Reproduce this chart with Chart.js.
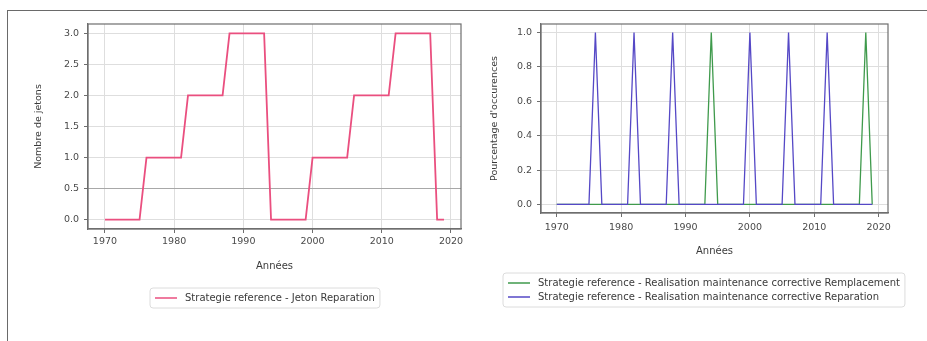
<!DOCTYPE html>
<html>
<head>
<meta charset="utf-8">
<script src="https://cdn.jsdelivr.net/npm/chart.js@4.4.1/dist/chart.umd.min.js"></script>
<style>
  body { margin: 0; background: #fff; }
  #frame { position: absolute; left: 7px; top: 10px; width: 960px; height: 400px; border: 1px solid #6a6a6a; }
  #left { position: absolute; left: 0; top: 0; width: 470px; height: 341px; }
  #right { position: absolute; left: 470px; top: 0; width: 457px; height: 341px; }
</style>
</head>
<body>
<div id="frame"></div>
<div id="left"><canvas id="c1" width="470" height="341"></canvas></div>
<div id="right"><canvas id="c2" width="457" height="341"></canvas></div>
<script>
var annees = [1970, 1971, 1972, 1973, 1974, 1975, 1976, 1977, 1978, 1979,
              1980, 1981, 1982, 1983, 1984, 1985, 1986, 1987, 1988, 1989,
              1990, 1991, 1992, 1993, 1994, 1995, 1996, 1997, 1998, 1999,
              2000, 2001, 2002, 2003, 2004, 2005, 2006, 2007, 2008, 2009,
              2010, 2011, 2012, 2013, 2014, 2015, 2016, 2017, 2018, 2019];

var jetons = [0, 0, 0, 0, 0, 0, 1, 1, 1, 1,
              1, 1, 2, 2, 2, 2, 2, 2, 3, 3,
              3, 3, 3, 3, 0, 0, 0, 0, 0, 0,
              1, 1, 1, 1, 1, 1, 2, 2, 2, 2,
              2, 2, 3, 3, 3, 3, 3, 3, 0, 0];

var remplacement = [0, 0, 0, 0, 0, 0, 0, 0, 0, 0,
                    0, 0, 0, 0, 0, 0, 0, 0, 0, 0,
                    0, 0, 0, 0, 1, 0, 0, 0, 0, 0,
                    0, 0, 0, 0, 0, 0, 0, 0, 0, 0,
                    0, 0, 0, 0, 0, 0, 0, 0, 1, 0];

var reparation = [0, 0, 0, 0, 0, 0, 1, 0, 0, 0,
                  0, 0, 1, 0, 0, 0, 0, 0, 1, 0,
                  0, 0, 0, 0, 0, 0, 0, 0, 0, 0,
                  1, 0, 0, 0, 0, 0, 1, 0, 0, 0,
                  0, 0, 1, 0, 0, 0, 0, 0, 0, 0];

var decennies = [1970, 1980, 1990, 2000, 2010, 2020];
var ticksJetons = [0, 0.5, 1, 1.5, 2, 2.5, 3];
var ticksPourcent = [0, 0.2, 0.4, 0.6, 0.8, 1];

var FONT = 'DejaVu Sans';

function pts(ys) {
  return annees.map(function(a, i) { return { x: a, y: ys[i] }; });
}

// cadre complet autour de la zone de tracé (style matplotlib)
var boxPlugin = {
  id: 'box',
  afterDraw: function(chart) {
    var a = chart.chartArea, ctx = chart.ctx;
    ctx.save();
    ctx.strokeStyle = '#6e6e6e';
    ctx.lineWidth = 1.2;
    ctx.strokeRect(a.left, a.top, a.right - a.left, a.bottom - a.top);
    ctx.restore();
  }
};

// légende encadrée, lignes alignées à gauche
var legendPlugin = {
  id: 'mplLegend',
  afterDraw: function(chart, args, opts) {
    var ctx = chart.ctx;
    var ds = chart.data.datasets;
    ctx.save();
    ctx.font = '10px "' + FONT + '"';
    var maxW = 0;
    ds.forEach(function(d) { maxW = Math.max(maxW, ctx.measureText(d.label).width); });
    var x = opts.x, y = opts.y, rowH = opts.rowH;
    var w = 22 + 8 + maxW + 10, h = rowH * ds.length + 6;
    ctx.strokeStyle = '#dcdcdc';
    ctx.lineWidth = 1;
    ctx.beginPath();
    ctx.roundRect(x - 5, y - rowH / 2 - 3, w, h, 3);
    ctx.stroke();
    ds.forEach(function(d, i) {
      var yy = y + i * rowH;
      ctx.strokeStyle = d.borderColor;
      ctx.lineWidth = 1.5;
      ctx.beginPath();
      ctx.moveTo(x, yy);
      ctx.lineTo(x + 22, yy);
      ctx.stroke();
      ctx.fillStyle = '#3a3a3a';
      ctx.textBaseline = 'middle';
      ctx.fillText(d.label, x + 30, yy);
    });
    ctx.restore();
  }
};

function axeX(hauteur, padTicks) {
  return {
    type: 'linear',
    min: 1967.55,
    max: 2021.45,
    afterBuildTicks: function(s) { s.ticks = decennies.map(function(v) { return { value: v }; }); },
    afterFit: function(s) { s.height = hauteur; },
    ticks: { color: '#4a4a4a', font: { family: FONT, size: 9.5 }, padding: padTicks, maxRotation: 0,
             callback: function(v) { return String(v); } },
    grid: { color: '#dedede', tickColor: '#6e6e6e', tickLength: 4 },
    border: { color: '#6e6e6e', width: 1.2 },
    title: { display: true, text: 'Années', color: '#3a3a3a', font: { family: FONT, size: 10 } }
  };
}

function axeY(min, max, valeurs, largeur, titre, gridFn) {
  return {
    min: min,
    max: max,
    afterBuildTicks: function(s) { s.ticks = valeurs.map(function(v) { return { value: v }; }); },
    afterFit: function(s) { s.width = largeur; },
    ticks: { color: '#4a4a4a', font: { family: FONT, size: 9.5 }, padding: 5,
             callback: function(v) { return v.toFixed(1); } },
    grid: { color: gridFn, tickColor: '#6e6e6e', tickLength: 4 },
    border: { color: '#6e6e6e', width: 1.2 },
    title: { display: true, text: titre, color: '#3a3a3a', font: { family: FONT, size: 9.5 } }
  };
}

new Chart(document.getElementById('c1'), {
  type: 'line',
  data: {
    datasets: [{
      label: 'Strategie reference - Jeton Reparation',
      data: pts(jetons),
      borderColor: '#ea4f7f',
      borderWidth: 1.8,
      pointRadius: 0,
      tension: 0
    }]
  },
  options: {
    responsive: false,
    animation: false,
    layout: { padding: { left: 29, top: 24, right: 9, bottom: 65 } },
    plugins: {
      legend: { display: false },
      tooltip: { enabled: false },
      mplLegend: { x: 155, y: 298, rowH: 14 }
    },
    scales: {
      x: axeX(47, 3),
      y: axeY(-0.15, 3.15, ticksJetons, 59, 'Nombre de jetons',
              function(c) { return c.tick && c.tick.value === 0.5 ? '#a8a8a8' : '#dedede'; })
    }
  },
  plugins: [boxPlugin, legendPlugin]
});

new Chart(document.getElementById('c2'), {
  type: 'line',
  data: {
    datasets: [{
      label: 'Strategie reference - Realisation maintenance corrective Remplacement',
      data: pts(remplacement),
      borderColor: '#3f9a4c',
      borderWidth: 1.3,
      pointRadius: 0,
      tension: 0,
      order: 1
    }, {
      label: 'Strategie reference - Realisation maintenance corrective Reparation',
      data: pts(reparation),
      borderColor: '#5548c6',
      borderWidth: 1.3,
      pointRadius: 0,
      tension: 0,
      order: 0
    }]
  },
  options: {
    responsive: false,
    animation: false,
    layout: { padding: { left: 15, top: 24, right: 39, bottom: 80 } },
    plugins: {
      legend: { display: false },
      tooltip: { enabled: false },
      mplLegend: { x: 38, y: 283, rowH: 14 }
    },
    scales: {
      x: axeX(48, 5),
      y: axeY(-0.05, 1.05, ticksPourcent, 56, "Pourcentage d'occurences",
              function() { return '#dedede'; })
    }
  },
  plugins: [boxPlugin, legendPlugin]
});
</script>
</body>
</html>
